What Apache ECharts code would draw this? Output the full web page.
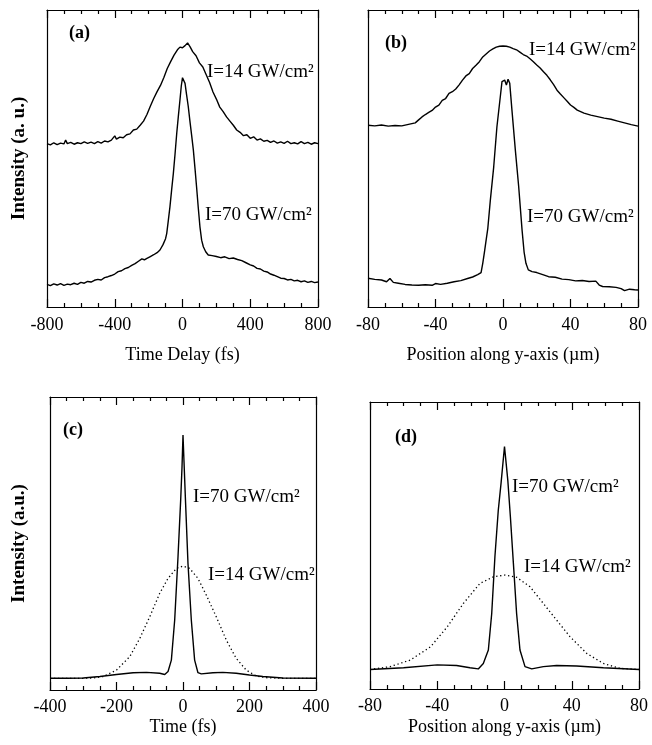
<!DOCTYPE html>
<html>
<head>
<meta charset="utf-8">
<script src="https://cdn.jsdelivr.net/npm/echarts@6/dist/echarts.min.js"></script>
<style>html,body{margin:0;padding:0;background:#fff}#c{width:652px;height:745px}</style>
</head>
<body>
<div id="c"></div>
<script>
// ---- data (y in arbitrary units 0..100 of each panel) ----
const ticksA = [-800, -400, 0, 400, 800];
const ticksB = [-80, -40, 0, 40, 80];
const ticksC = [-400, -200, 0, 200, 400];
const ticksD = [-80, -40, 0, 40, 80];

const a14 = [[-800,55.0],[-780,54.6],[-760,55.3],[-740,54.7],[-720,55.2],[-700,54.9],[-690,56.2],[-680,55.0],[-660,55.4],[-640,54.8],[-620,55.3],[-600,55.0],[-580,55.6],[-560,55.1],[-540,55.5],[-520,55.0],[-500,55.7],[-480,55.2],[-460,55.9],[-440,55.6],[-420,56.2],[-400,57.6],[-390,56.5],[-370,57.2],[-350,57.0],[-330,58.0],[-310,58.3],[-290,59.6],[-270,59.9],[-250,61.2],[-230,62.6],[-210,64.8],[-190,67.6],[-170,70.2],[-150,72.5],[-130,74.6],[-110,77.3],[-90,80.3],[-70,82.6],[-50,84.8],[-30,86.6],[-15,87.5],[0,87.3],[15,88.0],[30,88.9],[45,87.6],[60,86.0],[80,84.6],[100,82.2],[120,80.8],[140,78.2],[160,75.6],[180,72.4],[200,70.0],[220,67.3],[240,65.8],[260,64.0],[280,62.6],[300,61.2],[320,59.6],[340,58.8],[360,57.7],[380,58.0],[400,56.8],[420,57.3],[440,56.2],[460,56.6],[480,55.8],[500,56.1],[520,55.4],[540,55.9],[560,55.2],[580,55.6],[600,55.1],[620,55.8],[640,55.0],[660,55.3],[680,54.9],[700,55.7],[720,55.0],[740,55.4],[760,54.8],[780,55.3],[800,55.0]];

const a70 = [[-800,7.6],[-780,7.2],[-760,7.8],[-740,7.4],[-720,7.9],[-700,7.3],[-680,7.7],[-660,7.5],[-640,8.0],[-620,7.6],[-600,8.3],[-580,8.0],[-560,8.6],[-540,8.4],[-520,9.0],[-500,9.3],[-480,9.1],[-460,9.9],[-440,10.2],[-420,10.6],[-400,11.1],[-380,11.9],[-360,12.2],[-340,12.9],[-320,13.3],[-300,14.0],[-280,14.6],[-260,15.4],[-240,16.2],[-225,15.9],[-210,16.4],[-190,17.0],[-170,17.6],[-150,18.3],[-133,19.2],[-115,21.0],[-100,23.0],[-93,24.8],[-84,29.0],[-74,33.8],[-64,39.5],[-54,45.0],[-44,51.5],[-34,58.5],[-24,64.5],[-15,69.7],[-7,74.5],[0,77.2],[6,76.8],[15,75.3],[24,71.5],[34,67.5],[44,62.5],[54,57.8],[64,52.9],[74,46.5],[83,40.5],[93,33.5],[103,27.0],[113,22.5],[123,20.3],[137,18.6],[152,17.5],[175,17.3],[200,17.0],[225,16.6],[250,16.9],[275,16.3],[300,16.5],[325,16.0],[350,15.6],[375,14.9],[400,14.2],[420,13.8],[440,13.0],[460,12.8],[480,12.1],[500,11.8],[520,11.1],[540,10.7],[560,10.2],[580,9.7],[600,9.6],[620,9.1],[640,9.3],[660,8.8],[680,9.0],[700,8.5],[720,8.8],[740,8.3],[760,8.6],[780,8.2],[800,8.4]];

const b14 = [[-80,61.2],[-76,61.0],[-72,61.3],[-68,60.9],[-64,61.1],[-60,61.0],[-56,61.5],[-52,62.0],[-50,63.0],[-48,64.0],[-46,64.8],[-44,65.5],[-42,66.2],[-40,67.3],[-38,68.0],[-36,69.6],[-34,70.2],[-32,71.9],[-30,72.5],[-28,73.4],[-26,74.8],[-24,76.4],[-22,77.8],[-20,78.6],[-18,80.3],[-16,81.4],[-14,82.6],[-12,84.2],[-10,85.2],[-8,86.2],[-6,86.9],[-4,87.5],[-2,87.8],[0,87.9],[2,87.8],[4,87.5],[6,87.0],[8,86.6],[10,85.8],[12,85.0],[14,84.5],[16,83.6],[18,82.6],[20,81.5],[22,80.5],[24,79.2],[26,78.0],[28,76.5],[30,74.9],[32,73.0],[34,71.7],[36,70.5],[38,69.3],[40,68.0],[42,67.2],[44,66.3],[46,65.8],[48,65.3],[52,64.6],[56,64.1],[60,63.6],[64,63.2],[68,62.6],[72,62.0],[76,61.4],[80,60.9]];

const b70 = [[-80,9.7],[-76,9.3],[-72,9.1],[-69,8.5],[-67,9.6],[-65,8.3],[-62,8.0],[-58,7.6],[-54,7.4],[-50,7.3],[-46,7.5],[-42,7.3],[-40,7.9],[-37,7.6],[-33,8.0],[-29,8.5],[-25,8.9],[-21,9.6],[-18,10.1],[-15,10.9],[-13,11.6],[-12,14.7],[-11,18.5],[-10,22.5],[-9,26.5],[-7.5,36.0],[-5.5,47.2],[-3.6,60.7],[-1.6,70.8],[-0.6,75.9],[1,76.4],[2,74.7],[3,76.7],[4,75.3],[5.3,66.3],[7.3,52.9],[9.3,40.5],[11.3,25.9],[12.5,18.5],[13.6,14.7],[15,12.5],[17.2,11.9],[20,11.6],[24,10.8],[27,10.2],[31,10.0],[35,9.4],[39,9.2],[43,8.8],[47,8.9],[51,8.6],[55,8.7],[57,7.4],[59,6.9],[63,6.8],[67,6.6],[70,6.2],[72,5.5],[75,6.0],[78,5.8],[80,5.7]];

const c70 = [[-400,4.0],[-350,4.0],[-300,4.1],[-250,4.6],[-200,5.3],[-150,5.9],[-110,6.0],[-70,5.7],[-55,5.3],[-45,6.3],[-35,10.2],[-25,23.9],[-15,45.5],[-7,64.8],[-3,76.0],[0,87.0],[3,78.0],[7,66.0],[15,43.2],[25,23.9],[35,10.2],[45,5.9],[55,5.5],[90,5.9],[120,6.0],[160,5.7],[200,5.1],[240,4.6],[300,4.1],[400,4.0]];

const c14 = [[-400,4.0],[-300,4.0],[-270,4.1],[-240,4.6],[-200,6.8],[-160,11.4],[-130,17.6],[-100,25.0],[-70,33.0],[-45,38.1],[-20,41.5],[0,42.3],[20,41.5],[45,38.1],[70,32.4],[100,25.0],[130,17.1],[160,10.8],[190,6.8],[220,4.8],[250,4.2],[300,4.0],[400,4.0]];

const d70 = [[-80,6.8],[-60,7.4],[-40,8.4],[-28.5,8.2],[-20.5,7.4],[-15.6,7.0],[-12.6,8.9],[-9.6,13.6],[-7.6,26.3],[-5.7,46.1],[-3.7,62.3],[-2,72.0],[0,84.5],[2,72.5],[3.5,60.0],[5.3,43.7],[7.2,26.3],[9.2,13.6],[12.2,7.8],[16.2,7.0],[23.1,7.8],[31,8.2],[42.9,8.0],[58.8,7.4],[80,6.8]];

const d14 = [[-80,6.8],[-68,7.8],[-56,10.1],[-44,14.7],[-34,21.7],[-24.5,29.8],[-14.6,36.8],[-6.6,39.1],[0,39.7],[7.3,38.9],[15.2,35.6],[23.1,29.8],[31,24.0],[39,18.2],[48.9,12.4],[58.8,8.9],[68.7,7.2],[80,6.8]];

// ---- chart ----
const FONT = "'Liberation Serif','Times New Roman',serif";
const INK = '#000';
const FS = 18;      // tick labels and axis titles
const FS_IN = 19;   // in-plot annotations
const grids = [
  {left: 47, top: 10, width: 271, height: 297},
  {left: 368, top: 10, width: 270, height: 297},
  {left: 50, top: 397, width: 266, height: 293},
  {left: 370, top: 402, width: 269, height: 287}
];
const panels = [
  {ticks: ticksA, name: 'Time Delay (fs)', yName: 'Intensity (a. u.)', yGap: 18, nameGap: 39, margin: 9},
  {ticks: ticksB, name: 'Position along y-axis (\u00b5m)', yName: '', yGap: 18, nameGap: 39, margin: 9},
  {ticks: ticksC, name: 'Time (fs)', yName: 'Intensity (a.u.)', yGap: 21, nameGap: 28, margin: 8},
  {ticks: ticksD, name: 'Position along y-axis (\u00b5m)', yName: '', yGap: 18, nameGap: 29, margin: 8}
];
const lineAx = {show: true, onZero: false, lineStyle: {color: INK, width: 1.2}};
const xAxes = [], yAxes = [];
panels.forEach((p, i) => {
  const min = p.ticks[0], max = p.ticks[p.ticks.length - 1];
  const interval = p.ticks[1] - p.ticks[0];
  const base = {
    type: 'value', gridIndex: i, min, max, interval,
    axisLine: lineAx,
    axisTick: {show: true, inside: true, length: 8, lineStyle: {color: INK, width: 1.2}},
    minorTick: {show: true, splitNumber: 4, length: 4, lineStyle: {color: INK, width: 1.2}},
    splitLine: {show: false}, minorSplitLine: {show: false}
  };
  xAxes.push(Object.assign({}, base, {
    position: 'bottom',
    name: p.name, nameLocation: 'middle', nameGap: p.nameGap,
    nameTextStyle: {fontFamily: FONT, fontSize: FS, color: INK},
    axisLabel: {show: true, margin: p.margin, fontFamily: FONT, fontSize: FS, color: INK}
  }));
  xAxes.push(Object.assign({}, base, {position: 'top', axisLabel: {show: false}}));
  yAxes.push({
    type: 'value', gridIndex: i, min: 0, max: 100, position: 'left',
    name: p.yName, nameLocation: 'middle', nameGap: p.yGap,
    nameTextStyle: {fontFamily: FONT, fontSize: 19, color: INK, fontWeight: 'bold'},
    axisLine: lineAx, axisTick: {show: false}, axisLabel: {show: false}, splitLine: {show: false}
  });
  yAxes.push({
    type: 'value', gridIndex: i, min: 0, max: 100, position: 'right',
    axisLine: lineAx, axisTick: {show: false}, axisLabel: {show: false}, splitLine: {show: false}
  });
});

function line(data, gi, dotted) {
  return {
    type: 'line', data, xAxisIndex: gi * 2, yAxisIndex: gi * 2,
    showSymbol: false, symbol: 'none', animation: false, silent: true,
    lineStyle: {color: INK, width: dotted ? 1.3 : 1.4, type: dotted ? [1.3, 2.7] : 'solid'}
  };
}

function txt(x, y, s, bold) {
  return {type: 'text', x, y, silent: true,
    style: {text: s, fontFamily: FONT, fontSize: bold ? 18 : FS_IN, fontWeight: bold ? 'bold' : 'normal', fill: INK, align: 'left', verticalAlign: 'middle'}};
}

const chart = echarts.init(document.getElementById('c'), null, {renderer: 'canvas'});
chart.setOption({
  animation: false,
  backgroundColor: '#fff',
  grid: grids,
  xAxis: xAxes,
  yAxis: yAxes,
  series: [
    line(a14, 0), line(a70, 0),
    line(b14, 1), line(b70, 1),
    line(c70, 2), line(c14, 2, true),
    line(d70, 3), line(d14, 3, true)
  ],
  graphic: [
    txt(69, 33, '(a)', true),
    txt(207, 72, 'I=14 GW/cm\u00b2', false),
    txt(205, 215, 'I=70 GW/cm\u00b2', false),
    txt(385, 43, '(b)', true),
    txt(529, 50, 'I=14 GW/cm\u00b2', false),
    txt(527, 217, 'I=70 GW/cm\u00b2', false),
    txt(63, 430, '(c)', true),
    txt(193, 497, 'I=70 GW/cm\u00b2', false),
    txt(208, 575, 'I=14 GW/cm\u00b2', false),
    txt(395, 437, '(d)', true),
    txt(512, 487, 'I=70 GW/cm\u00b2', false),
    txt(524, 567, 'I=14 GW/cm\u00b2', false)
  ]
});
</script>
</body>
</html>
